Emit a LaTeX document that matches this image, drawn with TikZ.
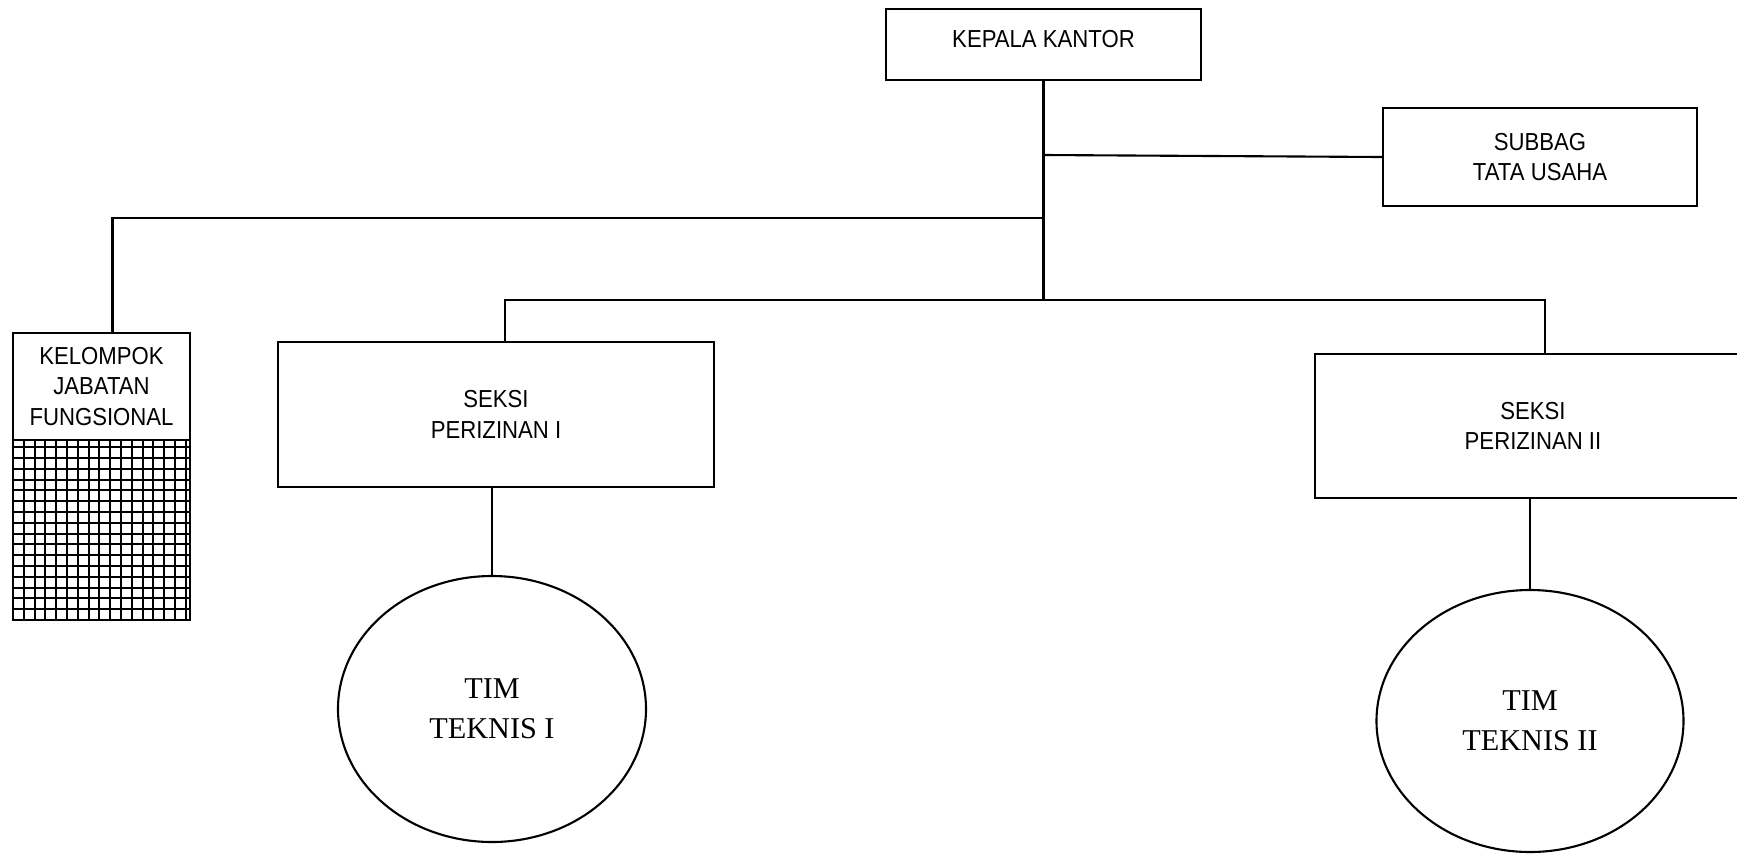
\documentclass[tikz,border=0pt]{standalone}
\usepackage{fontspec}
\setmainfont{Liberation Sans}[FakeStretch=0.9]
\newfontfamily\TimFont{Liberation Serif}
\usetikzlibrary{shapes.geometric}

\tikzset{
  unitbox/.style={draw, line width=0.6pt, align=center, inner sep=0pt,
    font=\fontsize{7}{8.6}\selectfont},
  timbox/.style={draw, ellipse, line width=0.6pt, align=center, inner sep=0pt,
    font=\TimFont\fontsize{8.6}{11.4}\selectfont},
  link/.style={line width=0.6pt}
}

\begin{document}
\begin{tikzpicture}
    \useasboundingbox (0,0) rectangle (17.37,8.53);
    \node[unitbox, minimum width=3.15cm, minimum height=0.71cm, text depth=0.12cm] (kepala) at (10.435,8.085) {KEPALA KANTOR};
    \node[unitbox, minimum width=3.14cm, minimum height=0.98cm] (subbag) at (15.40,6.96) {SUBBAG\\TATA USAHA};
    \node[unitbox, minimum width=1.77cm, minimum height=1.07cm] (kelompok) at (1.015,4.665) {KELOMPOK\\JABATAN\\FUNGSIONAL};
    \node[unitbox, minimum width=4.36cm, minimum height=1.45cm] (seksi1) at (4.96,4.385) {SEKSI\\PERIZINAN I};
    \node[unitbox, minimum width=4.36cm, minimum height=1.44cm] (seksi2) at (15.33,4.27) {SEKSI\\PERIZINAN II};
    \node[timbox, minimum width=3.08cm, minimum height=2.66cm] (tim1) at (4.92,1.44) {TIM\\TEKNIS I};
    \node[timbox, minimum width=3.07cm, minimum height=2.62cm] (tim2) at (15.30,1.32) {TIM\\TEKNIS II};
    %
    \draw[line width=0.6pt] (0.13,2.33) rectangle (1.90,4.13);
    \begin{scope}[shift={(0.13,2.33)}]
      \draw[line width=0.6pt, step=0.108] (0,0) grid (1.77,1.80);
    \end{scope}
    %
    \coordinate (trunk) at (kepala.south |- 0,5.53);
    \draw[link] (kepala.south) -- (trunk);
    \draw[link] (kepala.south |- 0,6.98) -- (subbag.west);
    \draw[link] (kepala.south |- 0,6.35) -| ([xshift=0.11cm]kelompok.north);
    \draw[link] ([xshift=0.09cm]seksi1.north) |- (trunk) -| ([xshift=0.12cm]seksi2.north);
    \draw[link] (tim1.north |- seksi1.south) -- (tim1.north);
    \draw[link] (tim2.north |- seksi2.south) -- (tim2.north);
\end{tikzpicture}
\end{document}
